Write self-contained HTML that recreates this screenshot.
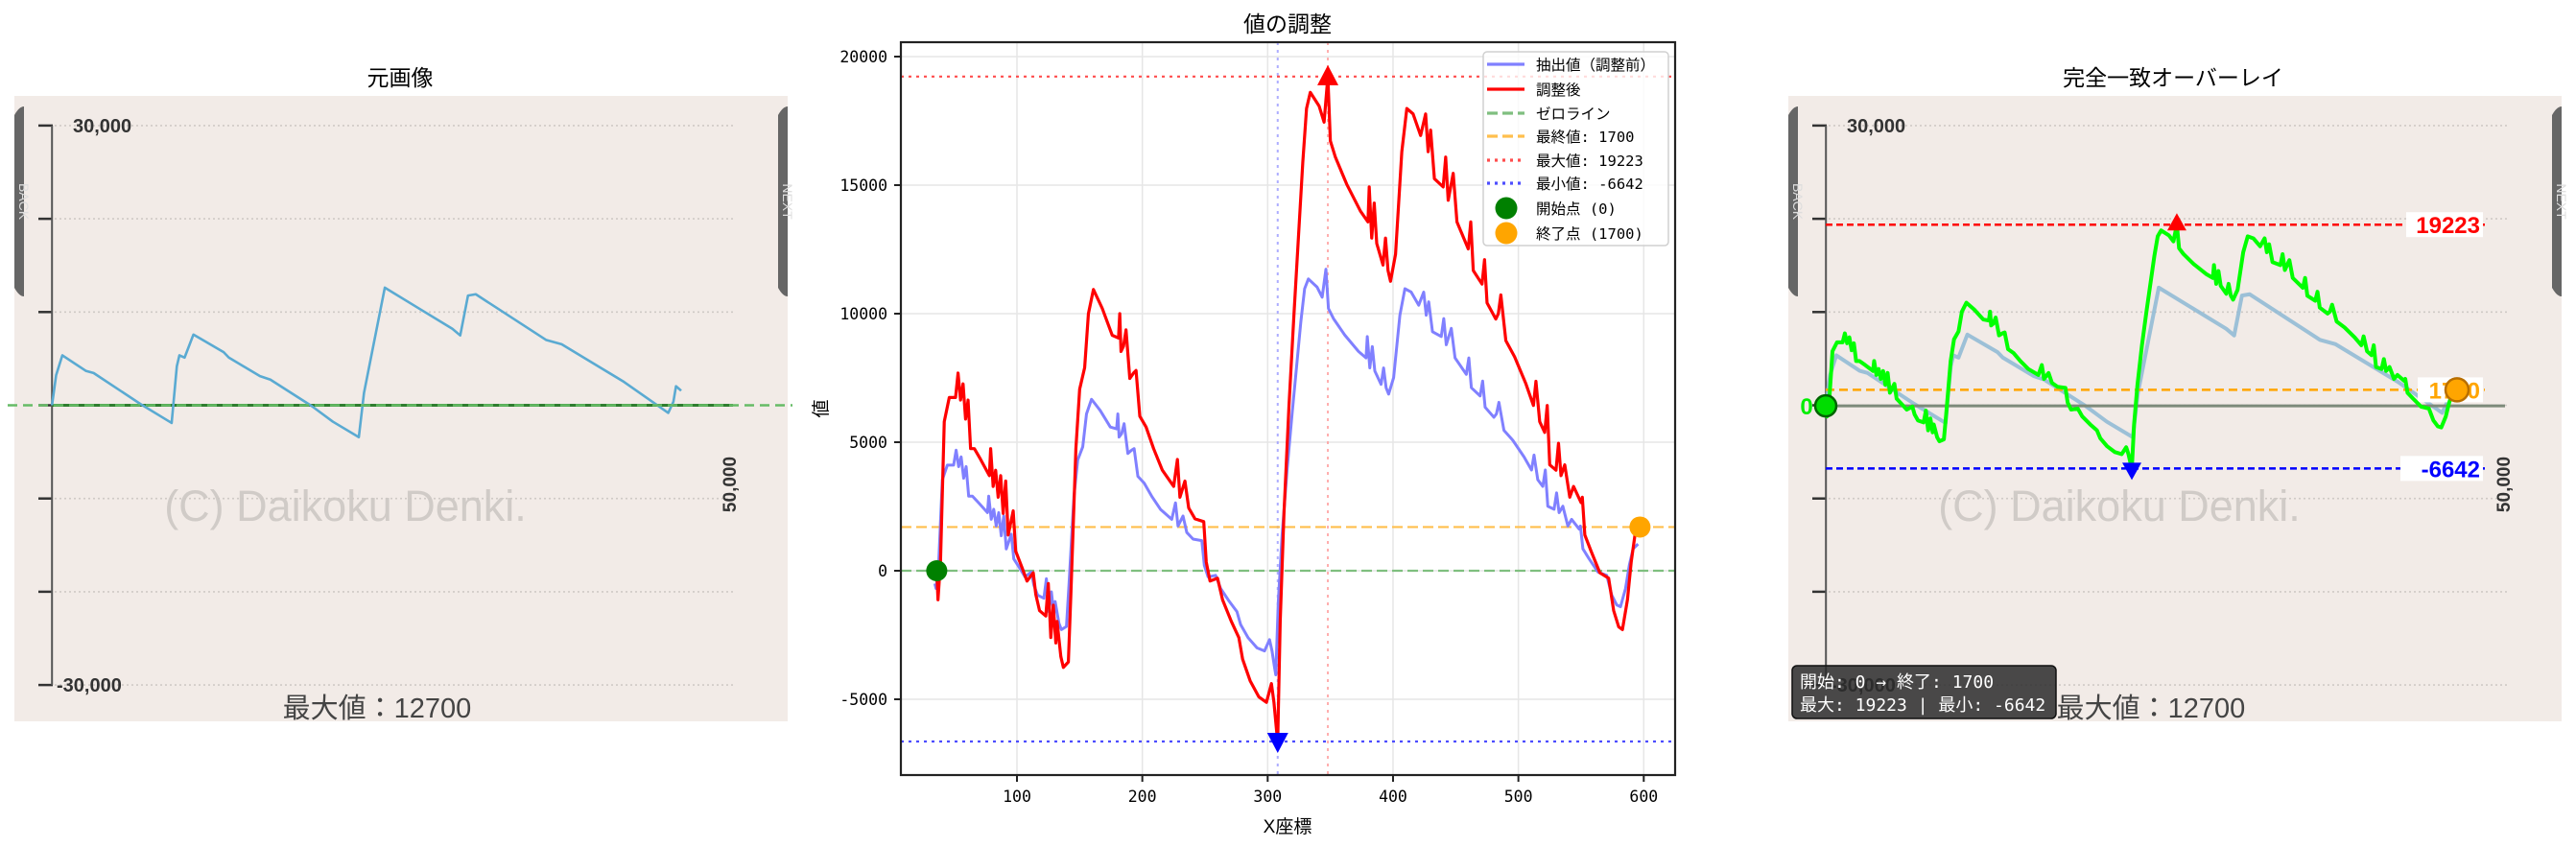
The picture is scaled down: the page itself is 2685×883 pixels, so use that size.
<!DOCTYPE html>
<html><head><meta charset="utf-8">
<style>
html,body{margin:0;padding:0;background:#fff;}
svg{display:block;}
.t{font-family:"Liberation Sans","Noto Sans CJK JP",sans-serif;}
.m{font-family:"DejaVu Sans Mono","Noto Sans CJK JP",monospace;}
</style></head>
<body>
<svg id="fig" width="2685" height="883" viewBox="0 0 2685 883" xmlns="http://www.w3.org/2000/svg">
<defs>
<clipPath id="midclip"><rect x="939" y="44" width="807" height="764"/></clipPath>
<clipPath id="leftclip"><rect x="15" y="100" width="806" height="652"/></clipPath>
<clipPath id="ovclip"><rect x="1863" y="100" width="807" height="652"/></clipPath>
</defs>
<text class="t" x="417" y="89" font-size="23" text-anchor="middle" fill="#000">元画像</text>
<text class="t" x="1342" y="33" font-size="23" text-anchor="middle" fill="#000">値の調整</text>
<text class="t" x="2265" y="89" font-size="23" text-anchor="middle" fill="#000">完全一致オーバーレイ</text>
<g id="left"></g>
<g id="mid"></g>
<g id="ov"></g>
</svg>
<script>
// ---- middle chart data ----
const xs = [36,37,39,42,46,51,53,55,57,59,61,63,66,71,78,79,81,83,85,87,89,91,93,97,99,104,108,113,115,118,123,125,127,129,131,132,135,137,141,143,147,150,154,157,161,168,176,181,182,183,185,187,190,193,195,198,203,209,216,225,228,230,234,237,242,249,251,254,260,264,271,277,280,286,293,299,303,305,307,308,310,313,317,321,328,331,334,341,345,348,350,354,363,374,380,381,383,385,387,392,394,396,398,402,407,411,416,422,426,428,430,433,440,442,444,448,451,460,462,464,471,473,475,482,484,486,490,497,506,512,514,517,521,523,525,530,532,534,537,541,544,550,551,553,558,565,572,574,576,580,583,587,590,593,597];
const adjusted = [0,-1130,340,5800,6740,6740,7690,6640,7270,5900,6640,4750,4750,4330,3700,4750,3280,3910,2860,3700,2230,3490,1390,2330,760,130,-400,-80,-920,-1550,-1760,-500,-2600,-1340,-2810,-1970,-3340,-3760,-3550,-920,4750,7060,7900,10000,10940,10210,9160,9050,10000,8530,8740,9370,7480,7690,7790,6010,5590,4750,3910,3280,4330,2860,3490,2440,2020,1910,340,-400,-290,-1130,-1970,-2600,-3440,-4280,-4910,-5120,-4390,-5120,-6170,-6642,-1970,2230,6430,10000,15880,17980,18610,18080,17450,19223,16720,16090,15040,13990,13570,14930,12940,14300,12730,11890,12940,11680,11260,12310,16300,17980,17770,16930,17770,16300,17140,15250,14930,16090,14410,15460,13570,12520,13570,11680,11150,12100,10420,9790,10000,10730,8950,8320,7270,6430,7370,5800,5380,6430,4120,3910,4960,3700,4120,2860,3280,2650,2860,1390,760,-80,-290,-920,-1550,-2180,-2290,-1130,340,1390,1700];
const extracted = [-500,-690,210,3540,4110,4110,4690,4050,4430,3600,4050,2900,2900,2640,2260,2900,2000,2390,1740,2260,1360,2130,850,1420,460,80,-240,-50,-560,-950,-1070,-310,-1590,-820,-1710,-1200,-2040,-2290,-2170,-560,2900,4310,4820,6100,6670,6230,5590,5520,6100,5200,5330,5720,4560,4690,4750,3670,3410,2900,2390,2000,2640,1740,2130,1490,1230,1170,210,-240,-180,-690,-1200,-1590,-2100,-2610,-3000,-3120,-2680,-3120,-3760,-4050,-1200,1360,3920,6100,9690,10970,11350,11030,10640,11730,10200,9810,9170,8530,8280,9110,7890,8720,7770,7250,7890,7120,6870,7510,9940,10970,10840,10330,10840,9940,10460,9300,9110,9810,8790,9430,8280,7640,8280,7120,6800,7380,6360,5970,6100,6550,5460,5080,4430,3920,4500,3540,3280,3920,2510,2390,3030,2260,2510,1740,2000,1620,1740,850,460,-50,-180,-560,-950,-1330,-1400,-690,210,850,1040];
const xTicks = [100,200,300,400,500,600];
const yTicks = [-5000,0,5000,10000,15000,20000];
const startVal = 0, finalVal = 1700, maxVal = 19223, minVal = -6642;
const maxX = 348, minX = 308, startX = 36, endX = 597;
// ---- original image chart data (games, value) ----
const srcGames = [0,303,760,2478,3055,6484,8779,9159,9349,9729,10377,12595,12975,15263,16023,19078,20606,22514,22894,24422,26710,29378,29955,30526,31096,36249,37397,41973,45218,45598,45788,46168];
const srcVals = [0,3228,5360,3695,3461,142,-1898,4172,5360,5116,7582,5694,5116,3126,2751,-102,-1756,-3421,1330,12616,10576,8201,7491,11764,11906,7014,6547,2507,-812,376,2040,1563];
const srcTicks = [30000,20000,10000,0,-10000,-20000,-30000];

const NS="http://www.w3.org/2000/svg";
function mk(parent,tag,attrs,text){const e=document.createElementNS(NS,tag);for(const k in attrs)e.setAttribute(k,attrs[k]);if(text!==undefined)e.textContent=text;parent.appendChild(e);return e;}

// axis functions
const mx=v=>1060+(v-100)*1.3066;
const my=v=>595-v*0.0268;
const lx=g=>54.2+g/70.4;
const ly=v=>422.5-v*0.00972;
const gx=x=>1903+(x-36)*1.1729;
const gy=v=>423.1-v*0.009827;

// ===== source image drawer =====
function drawSource(g,dx,isOverlay){
  let e;
  e=mk(g,'rect',{x:15+dx,y:100,width:806,height:652,fill:'#f2ebe7'});
  
  
  // tabs
  [[15,'BACK'],[811,'NEXT']].forEach(([tx,lab])=>{
    const tg=mk(g,'g',{});
    
    
    mk(tg,'path',{d:`M${tx+dx} 120 Q${tx+dx+5} 111 ${tx+dx+10} 111 L${tx+dx+10} 309 Q${tx+dx+5} 309 ${tx+dx} 300 Z`,fill:'#666'});
    mk(tg,'text',{x:tx+dx+5,y:210,'font-size':14,fill:'#ddd','text-anchor':'middle',transform:`rotate(90 ${tx+dx+5} 210)`,class:'t'},lab);
  });
  // gridlines & ticks
  srcTicks.forEach(v=>{
    e=mk(g,'line',{x1:57+dx,x2:764+dx,y1:ly(v),y2:ly(v),stroke:'#cfcac6','stroke-width':1.6,'stroke-dasharray':'2 3'});
    
    
    e=mk(g,'line',{x1:40+dx,x2:55+dx,y1:ly(v),y2:ly(v),stroke:'#333','stroke-width':2.5});
    
    
  });
  e=mk(g,'line',{x1:54.2+dx,x2:54.2+dx,y1:ly(30000),y2:ly(-30000),stroke:'#555','stroke-width':2});
  
  
  e=mk(g,'text',{x:76+dx,y:ly(30000)+7,'font-size':20,'font-weight':'bold',fill:'#333',class:'t'},'30,000');
  
  
  e=mk(g,'text',{x:59+dx,y:ly(-30000)+7,'font-size':20,'font-weight':'bold',fill:'#333',class:'t'},'-30,000');
  
  
  e=mk(g,'text',{x:767+dx,y:505,'font-size':19,'font-weight':'bold',fill:'#333','text-anchor':'middle',class:'t',transform:`rotate(-90 ${767+dx} 505)`},'50,000');
  
  
  e=mk(g,'text',{x:360+dx,y:543,'font-size':45,fill:'#cdc8c4',opacity:0.9,'text-anchor':'middle',class:'t'},'(C) Daikoku Denki.');
  
  
  e=mk(g,'text',{x:393+dx,y:748,'font-size':29,fill:'#444','text-anchor':'middle',class:'t'},'最大値：12700');
  
  
  if(!isOverlay){
    e=mk(g,'line',{x1:54,x2:764,y1:ly(0),y2:ly(0),stroke:'#2f7d2f','stroke-width':3});
    
    
  }
  const pts=srcGames.map((gm,i)=>`${lx(gm)+dx},${ly(srcVals[i])}`).join(' ');
  e=mk(g,'polyline',{points:pts,fill:'none',stroke:isOverlay?'#8db8d4':'#5aaad2','stroke-width':isOverlay?4:2.6,'stroke-linejoin':'round',opacity:isOverlay?0.85:1});
  
  
}

const L=document.getElementById('left');
drawSource(L,0,false);
let e=mk(L,'line',{x1:8,x2:826,y1:ly(0),y2:ly(0),stroke:'#66bb66','stroke-width':2.5,'stroke-dasharray':'10 6'});



// ===== middle chart =====
const M=document.getElementById('mid');
xTicks.forEach(v=>{
  e=mk(M,'line',{x1:mx(v),x2:mx(v),y1:44,y2:808,stroke:'#e6e6e6','stroke-width':1.5});
  
  
  e=mk(M,'line',{x1:mx(v),x2:mx(v),y1:808,y2:815,stroke:'#222','stroke-width':2});
  
  
  e=mk(M,'text',{x:mx(v),y:836,'font-size':16.5,'text-anchor':'middle',fill:'#000',class:'m'},String(v));
  
  
});
yTicks.forEach(v=>{
  e=mk(M,'line',{x1:939,x2:1746,y1:my(v),y2:my(v),stroke:'#e6e6e6','stroke-width':1.5});
  
  
  e=mk(M,'line',{x1:932,x2:939,y1:my(v),y2:my(v),stroke:'#222','stroke-width':2});
  
  
  e=mk(M,'text',{x:925,y:my(v)+6,'font-size':16.5,'text-anchor':'end',fill:'#000',class:'m'},String(v));
  
  
});
const C=mk(M,'g',{'clip-path':'url(#midclip)'});
e=mk(C,'line',{x1:mx(maxX),x2:mx(maxX),y1:44,y2:808,stroke:'#ff9a9a','stroke-width':2,'stroke-dasharray':'3 5',opacity:0.8});


e=mk(C,'line',{x1:mx(minX),x2:mx(minX),y1:44,y2:808,stroke:'#9a9aff','stroke-width':2,'stroke-dasharray':'3 5',opacity:0.8});


e=mk(C,'line',{x1:939,x2:1746,y1:my(0),y2:my(0),stroke:'#7fbf7f','stroke-width':2.2,'stroke-dasharray':'11 5'});


e=mk(C,'line',{x1:939,x2:1746,y1:my(finalVal),y2:my(finalVal),stroke:'#ffbf4d','stroke-width':2.2,'stroke-dasharray':'11 5'});


e=mk(C,'line',{x1:939,x2:1746,y1:my(maxVal),y2:my(maxVal),stroke:'#ff4d4d','stroke-width':2.2,'stroke-dasharray':'3 5'});


e=mk(C,'line',{x1:939,x2:1746,y1:my(minVal),y2:my(minVal),stroke:'#4d4dff','stroke-width':2.2,'stroke-dasharray':'3 5'});


e=mk(C,'polyline',{points:xs.map((x,i)=>`${mx(x)-2},${my(extracted[i])}`).join(' '),fill:'none',stroke:'#8080ff','stroke-width':3,'stroke-linejoin':'round'});


e=mk(C,'polyline',{points:xs.map((x,i)=>`${mx(x)},${my(adjusted[i])}`).join(' '),fill:'none',stroke:'#ff0000','stroke-width':3.2,'stroke-linejoin':'round'});


e=mk(C,'circle',{cx:mx(startX),cy:my(startVal),r:11,fill:'#008000'});


e=mk(C,'circle',{cx:mx(endX),cy:my(finalVal),r:11,fill:'#ffa500'});


let tx=mx(maxX),ty=my(maxVal);
e=mk(C,'polygon',{points:`${tx},${ty-12} ${tx-11},${ty+9} ${tx+11},${ty+9}`,fill:'#ff0000'});


tx=mx(minX);ty=my(minVal);
e=mk(C,'polygon',{points:`${tx},${ty+12} ${tx-11},${ty-9} ${tx+11},${ty-9}`,fill:'#0000ff'});


e=mk(M,'rect',{x:939,y:44,width:807,height:764,fill:'none',stroke:'#222','stroke-width':2.2});


e=mk(M,'text',{x:1342,y:868,'font-size':19,'text-anchor':'middle',fill:'#000',class:'t'},'X座標');


e=mk(M,'text',{x:862,y:426,'font-size':19,'text-anchor':'middle',fill:'#000',class:'t',transform:'rotate(-90 862 426)'},'値');


// legend
const LG=mk(M,'g',{});


mk(LG,'rect',{x:1546,y:54,width:193,height:202,rx:4,fill:'#fff','fill-opacity':0.8,stroke:'#d0d0d0','stroke-width':1.5});
const legItems=[
 ['line','#8080ff','', '抽出値（調整前）'],
 ['line','#ff0000','', '調整後'],
 ['line','#7fbf7f','11 5','ゼロライン'],
 ['line','#ffbf4d','11 5','最終値: 1700'],
 ['line','#ff4d4d','3 5','最大値: 19223'],
 ['line','#4d4dff','3 5','最小値: -6642'],
 ['dot','#008000','','開始点 (0)'],
 ['dot','#ffa500','','終了点 (1700)']];
const legY=[67,93,118,142,167,191,217,243];
legItems.forEach((it,i)=>{
  const eg=mk(LG,'g',{});
  
  
  const y=legY[i];
  if(it[0]==='line'){const a={x1:1550,x2:1589,y1:y,y2:y,stroke:it[1],'stroke-width':3.2};if(it[2])a['stroke-dasharray']=it[2];mk(eg,'line',a);}
  else mk(eg,'circle',{cx:1570,cy:y,r:11.5,fill:it[1]});
  mk(eg,'text',{x:1601,y:y+6,'font-size':15.5,fill:'#000',class:'m'},it[3]);
});

// ===== overlay panel =====
const O=document.getElementById('ov');
drawSource(O,1849,true);
e=mk(O,'line',{x1:1903,x2:2611,y1:gy(0),y2:gy(0),stroke:'#7d8a7a','stroke-width':3});


e=mk(O,'line',{x1:1903,x2:2590,y1:gy(maxVal),y2:gy(maxVal),stroke:'#ff0000','stroke-width':2.5,'stroke-dasharray':'7 4'});


e=mk(O,'line',{x1:1903,x2:2590,y1:gy(finalVal),y2:gy(finalVal),stroke:'#ffa500','stroke-width':2.5,'stroke-dasharray':'9 5'});


e=mk(O,'line',{x1:1903,x2:2590,y1:gy(minVal),y2:gy(minVal),stroke:'#0000ff','stroke-width':2.5,'stroke-dasharray':'7 4'});


[[maxVal,'19223','#ff0000',2508,'overlay-max-label'],[finalVal,'1700','#ffa500',2520,'overlay-final-label'],[minVal,'-6642','#0000ff',2502,'overlay-min-label']].forEach(([v,s,c,x0,nm])=>{
  const lgp=mk(O,'g',{});
  
  
  mk(lgp,'rect',{x:x0,y:gy(v)-13,width:2588-x0,height:26,fill:'#fff'});
  mk(lgp,'text',{x:2585,y:gy(v)+9,'font-size':24,'font-weight':'bold',fill:c,'text-anchor':'end',class:'t'},s);
});
e=mk(O,'text',{x:1883,y:gy(0)+9,'font-size':24,'font-weight':'bold',fill:'#00ee00','text-anchor':'middle',class:'t'},'0');


e=mk(O,'polyline',{points:xs.map((x,i)=>`${gx(x)},${gy(adjusted[i])}`).join(' '),fill:'none',stroke:'#00ff00','stroke-width':4,'stroke-linejoin':'round'});


e=mk(O,'circle',{cx:gx(startX),cy:gy(startVal),r:11,fill:'#00dd00',stroke:'#006400','stroke-width':2.5});


e=mk(O,'circle',{cx:gx(endX),cy:gy(finalVal),r:12,fill:'#ffa500',stroke:'#b86e00','stroke-width':2.5});


tx=gx(maxX);ty=gy(maxVal);
e=mk(O,'polygon',{points:`${tx},${ty-12} ${tx-10},${ty+6} ${tx+10},${ty+6}`,fill:'#ff0000'});


tx=gx(minX);ty=gy(minVal);
e=mk(O,'polygon',{points:`${tx},${ty+12} ${tx-10},${ty-6} ${tx+10},${ty-6}`,fill:'#0000ff'});


const IB=mk(O,'g',{});


mk(IB,'rect',{x:1868,y:694,width:275,height:55,rx:5,fill:'#2b2b2b','fill-opacity':0.85,stroke:'#111','stroke-width':1.5});
mk(IB,'text',{x:1876,y:717,'font-size':18,fill:'#fff',class:'m'},'開始: 0 → 終了: 1700');
mk(IB,'text',{x:1876,y:741,'font-size':18,fill:'#fff',class:'m'},'最大: 19223 | 最小: -6642');
</script>
</body></html>
